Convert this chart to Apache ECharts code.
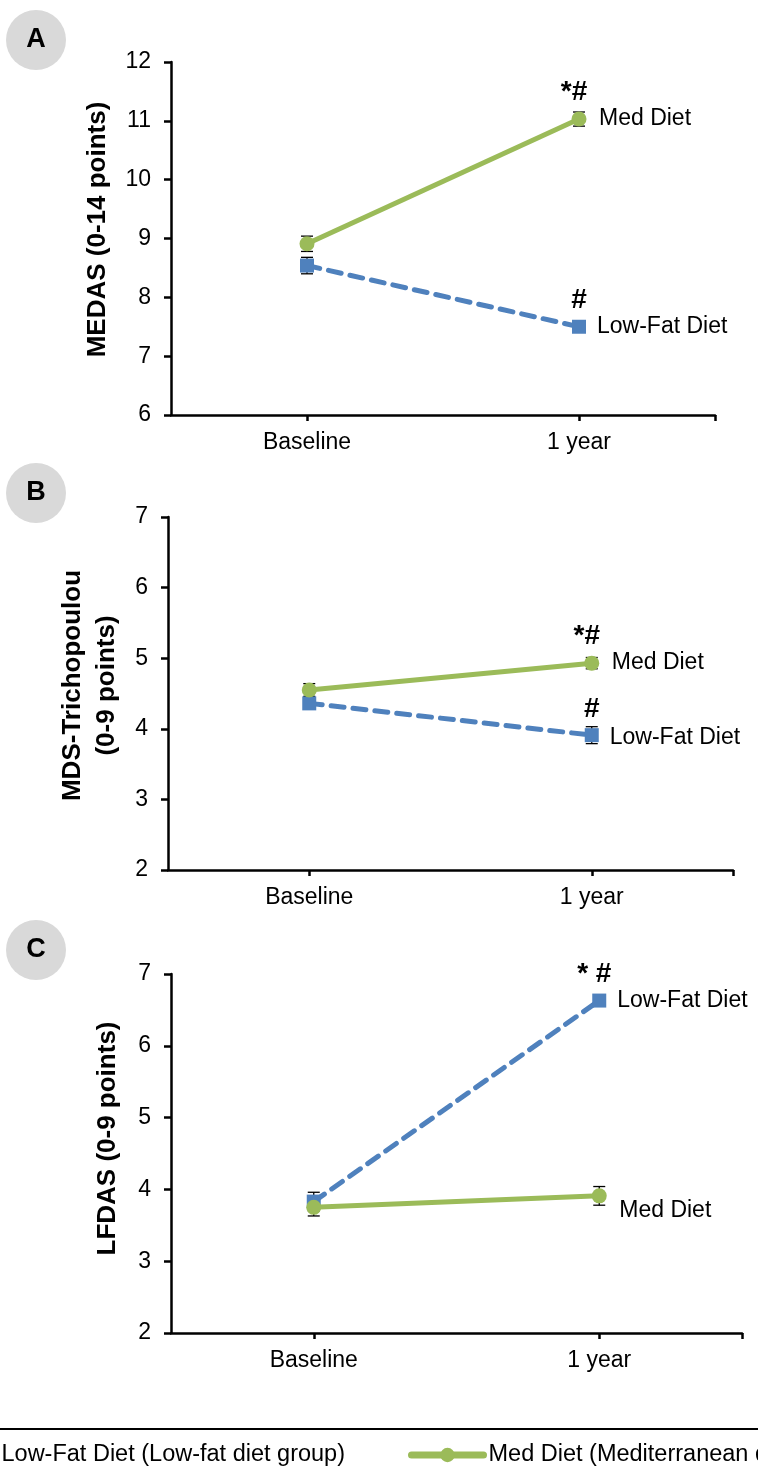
<!DOCTYPE html>
<html>
<head>
<meta charset="utf-8">
<script src="https://cdn.jsdelivr.net/npm/echarts@6/dist/echarts.min.js"></script>
<style>
  html, body { margin: 0; padding: 0; background: #fff; }
  #main { width: 758px; height: 1470px; }
</style>
</head>
<body>
<div id="main"></div>
<script>
// categories on the x axis, placed at the centre of each half
var categories = ['Baseline', '1 year']
var xPos = [0.5, 1.5]

// A - MEDAS
var medasMed = [8.91, 11.03]
var medasMedErr = [0.13, 0.12]
var medasLowFat = [8.54, 7.50]
var medasLowFatErr = [0.14, 0.08]
var medasSigMed = ['', '*#']
var medasSigLowFat = ['', '#']

// B - MDS-Trichopoulou
var mdsMed = [4.55, 4.93]
var mdsMedErr = [0.09, 0.08]
var mdsLowFat = [4.36, 3.91]
var mdsLowFatErr = [0.08, 0.12]
var mdsSigMed = ['', '*#']
var mdsSigLowFat = ['', '#']

// C - LFDAS
var lfdasMed = [3.75, 3.91]
var lfdasMedErr = [0.12, 0.13]
var lfdasLowFat = [3.83, 6.63]
var lfdasLowFatErr = [0.13, 0.08]
var lfdasSigMed = ['', '']
var lfdasSigLowFat = ['', '* #']

// y axis ranges
var medasRange = [6, 12]
var mdsRange = [2, 7]
var lfdasRange = [2, 7]

var legendNames = {
  'Low-Fat Diet': 'Low-Fat Diet (Low-fat diet group)',
  'Med Diet': 'Med Diet (Mediterranean diet group)'
}

var FONT = "'Liberation Sans', Arial, sans-serif"
var GREEN = '#9bbb59'
var BLUE = '#4f81bd'

var panels = [
  { letter: 'A', name: 'MEDAS (0-14 points)', range: medasRange, nameGap: 53, namePad: 18,
    med: medasMed, medErr: medasMedErr, medSig: medasSigMed, medLabelDy: 0,
    lf: medasLowFat, lfErr: medasLowFatErr, lfSig: medasSigLowFat, lfLabelDy: 0,
    grid: { left: 171, top: 62, width: 544, height: 353 }, circleY: 40 },
  { letter: 'B', name: 'MDS-Trichopoulou\n(0-9 points)', range: mdsRange, nameGap: 43, namePad: 16,
    med: mdsMed, medErr: mdsMedErr, medSig: mdsSigMed, medLabelDy: 0,
    lf: mdsLowFat, lfErr: mdsLowFatErr, lfSig: mdsSigLowFat, lfLabelDy: 3,
    grid: { left: 168, top: 517, width: 565, height: 353 }, circleY: 493 },
  { letter: 'C', name: 'LFDAS (0-9 points)', range: lfdasRange, nameGap: 46, namePad: 30,
    med: lfdasMed, medErr: lfdasMedErr, medSig: lfdasSigMed, medLabelDy: 15,
    lf: lfdasLowFat, lfErr: lfdasLowFatErr, lfSig: lfdasSigLowFat, lfLabelDy: 0,
    grid: { left: 171, top: 974, width: 571, height: 359 }, circleY: 950 }
]

function errorBarItem(params, api) {
  var x = api.value(0)
  var lo = api.coord([x, api.value(1)])
  var hi = api.coord([x, api.value(2)])
  var w = 6
  var style = { stroke: '#000', lineWidth: 1.3 }
  return {
    type: 'group',
    children: [
      { type: 'line', shape: { x1: lo[0], y1: lo[1], x2: hi[0], y2: hi[1] }, style: style },
      { type: 'line', shape: { x1: lo[0] - w, y1: lo[1], x2: lo[0] + w, y2: lo[1] }, style: style },
      { type: 'line', shape: { x1: hi[0] - w, y1: hi[1], x2: hi[0] + w, y2: hi[1] }, style: style }
    ]
  }
}

function pointData(means, sigs) {
  return xPos.map(function (x, i) {
    return {
      value: [x, means[i]],
      label: {
        show: sigs[i] !== '',
        formatter: sigs[i],
        position: 'top',
        distance: 5,
        offset: [sigs[i].length > 1 ? -5 : 0, 0],
        fontFamily: FONT,
        fontWeight: 'bold',
        fontSize: 28,
        color: '#000'
      }
    }
  })
}

function errData(means, errs) {
  return xPos.map(function (x, i) {
    return [x, means[i] - errs[i], means[i] + errs[i]]
  })
}

var grids = [], xAxes = [], yAxes = [], series = [], graphics = []

panels.forEach(function (p, i) {
  grids.push(p.grid)
  xAxes.push({
    gridIndex: i,
    type: 'value',
    min: 0,
    max: 2,
    interval: 0.5,
    axisLine: { show: true, lineStyle: { color: '#000', width: 2.5 } },
    axisTick: { show: true, customValues: [0.5, 1.5, 2], length: 6, lineStyle: { color: '#000', width: 2.5 } },
    axisLabel: {
      customValues: xPos,
      formatter: function (v) { return categories[Math.floor(v)] || '' },
      fontFamily: FONT, fontSize: 23, color: '#000', margin: 16
    },
    splitLine: { show: false }
  })
  yAxes.push({
    gridIndex: i,
    type: 'value',
    min: p.range[0],
    max: p.range[1],
    interval: 1,
    name: p.name,
    nameLocation: 'middle',
    nameGap: p.nameGap,
    nameTextStyle: {
      fontFamily: FONT, fontWeight: 'bold', fontSize: 26, color: '#000',
      lineHeight: 34, padding: [0, 0, 0, p.namePad]
    },
    axisLine: { show: true, lineStyle: { color: '#000', width: 2.5 } },
    axisTick: { show: true, length: 7, lineStyle: { color: '#000', width: 2.5 } },
    axisLabel: { fontFamily: FONT, fontSize: 23, color: '#000', margin: 20 },
    splitLine: { show: false }
  })

  // error bars sit under the markers
  series.push({
    name: 'err-lf-' + i, type: 'custom', xAxisIndex: i, yAxisIndex: i, z: 1,
    renderItem: errorBarItem, data: errData(p.lf, p.lfErr), silent: true
  })
  series.push({
    name: 'err-med-' + i, type: 'custom', xAxisIndex: i, yAxisIndex: i, z: 1,
    renderItem: errorBarItem, data: errData(p.med, p.medErr), silent: true
  })

  series.push({
    name: 'Low-Fat Diet', type: 'line', xAxisIndex: i, yAxisIndex: i, z: 3,
    symbol: 'rect', symbolSize: 14,
    itemStyle: { color: BLUE },
    lineStyle: { color: BLUE, width: 5, type: [13, 9], cap: 'round' },
    data: pointData(p.lf, p.lfSig),
    endLabel: {
      show: true, formatter: '{a}', distance: 18, offset: [0, p.lfLabelDy],
      fontFamily: FONT, fontSize: 23, color: '#000'
    },
    animation: false
  })
  series.push({
    name: 'Med Diet', type: 'line', xAxisIndex: i, yAxisIndex: i, z: 4,
    symbol: 'circle', symbolSize: 15,
    itemStyle: { color: GREEN },
    lineStyle: { color: GREEN, width: 5 },
    data: pointData(p.med, p.medSig),
    endLabel: {
      show: true, formatter: '{a}', distance: 20, offset: [0, p.medLabelDy],
      fontFamily: FONT, fontSize: 23, color: '#000'
    },
    animation: false
  })

  graphics.push({
    type: 'circle', shape: { cx: 36, cy: p.circleY, r: 30 },
    style: { fill: '#d9d9d9' }, silent: true
  })
  graphics.push({
    type: 'text', x: 36, y: p.circleY,
    style: {
      text: p.letter, fill: '#000', font: 'bold 27px ' + FONT,
      textAlign: 'center', textVerticalAlign: 'middle'
    },
    silent: true
  })
})

// rule above the legend
graphics.push({
  type: 'line', shape: { x1: 0, y1: 1429, x2: 758, y2: 1429 },
  style: { stroke: '#000', lineWidth: 2 }, silent: true
})

var legendBase = {
  top: 1443,
  padding: 0,
  itemWidth: 72,
  itemHeight: 18,
  lineStyle: { width: 7, cap: 'round' },
  formatter: function (name) { return legendNames[name] },
  textStyle: { fontFamily: FONT, fontSize: 23.5, color: '#000' }
}

var myChart = echarts.init(document.getElementById('main'))
var option = {
  backgroundColor: '#fff',
  animation: false,
  grid: grids,
  xAxis: xAxes,
  yAxis: yAxes,
  series: series,
  graphic: graphics,
  legend: [
    Object.assign({ data: ['Low-Fat Diet'], left: -79 }, legendBase),
    Object.assign({ data: ['Med Diet'], left: 408 }, legendBase)
  ]
}
myChart.setOption(option)
</script>
</body>
</html>
